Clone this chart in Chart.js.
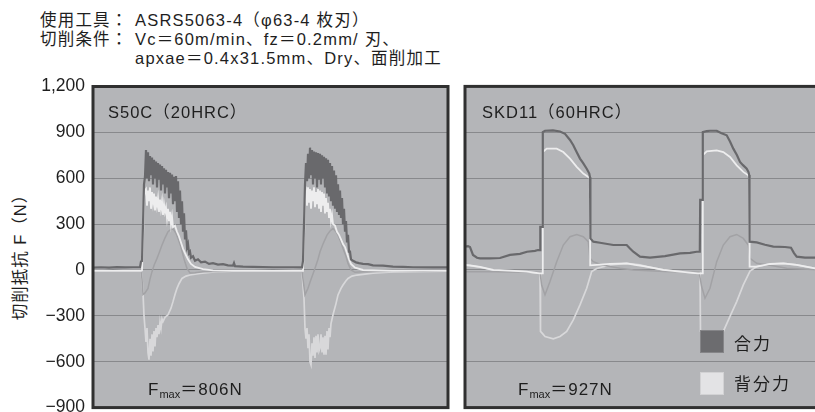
<!DOCTYPE html>
<html>
<head>
<meta charset="utf-8">
<script src="https://cdn.jsdelivr.net/npm/chart.js@4.4.0/dist/chart.umd.min.js"></script>
<style>
html, body { margin: 0; padding: 0; background: #fff; overflow: hidden; width: 815px; height: 412px; }
body { position: relative; font-family: "Liberation Sans", "Noto Sans CJK JP", sans-serif; color: #1e1e1e; }
.t { position: absolute; white-space: nowrap; line-height: 1; letter-spacing: 1px; }
.head { font-size: 16.5px; letter-spacing: 1.2px; }
.panel { position: absolute; top: 76px; height: 346px; }
.title { font-size: 16.5px; }
.fmax { font-size: 17px; }
.fmax sub { font-size: 11px; vertical-align: baseline; position: relative; top: 3px; letter-spacing: 0; }
.ytitle { font-size: 16.5px; transform: translate(-50%, -50%) rotate(-90deg); }
.box { position: absolute; width: 22px; height: 21px; }
.leg { font-size: 17px; letter-spacing: 2px; }
</style>
</head>
<body>

<div class="t head" style="left:40px;top:12px">使用工具：</div>
<div class="t head" style="left:135px;top:12px">ASRS5063-4（φ63-4 枚刃）</div>
<div class="t head" style="left:40px;top:31px">切削条件：</div>
<div class="t head" style="left:135px;top:31px">Vc＝60m/min、fz＝0.2mm/ 刃、</div>
<div class="t head" style="left:135px;top:50px">apxae＝0.4x31.5mm、Dry、面削加工</div>

<div class="t ytitle" style="left:20px;top:253px">切削抵抗 F（N）</div>

<div class="panel" style="left:0;width:452px"><canvas id="chartS50C" width="452" height="346"></canvas></div>
<div class="panel" style="left:463px;width:360px"><canvas id="chartSKD11" width="360" height="346"></canvas></div>

<div id="title0" class="t title" style="left:108px;top:104px"></div>
<div id="title1" class="t title" style="left:482px;top:104px"></div>
<div id="fmax0" class="t fmax" style="left:148px;top:381px"></div>
<div id="fmax1" class="t fmax" style="left:518px;top:381px"></div>

<div class="box" style="left:700px;top:330px;background:#6c6c6f;border:1px solid #858588"></div>
<div class="box" style="left:700px;top:372px;background:#e3e3e5;border:1px solid #d2d2d4"></div>
<div id="leg0" class="t leg" style="left:734px;top:336px"></div>
<div id="leg1" class="t leg" style="left:734px;top:376px"></div>

<script>
// 縦軸
const yTicks = [-900, -600, -300, 0, 300, 600, 900, 1200];
const panelTitles = ['S50C（20HRC）', 'SKD11（60HRC）'];
const fmaxValues = [806, 927];
const legendLabels = ['合力', '背分力'];

const COLORS = {
    resultant: '#69696c',
    thrust: '#ededee',
    feed: '#d8d8da',
    principal: '#a2a2a5'
};

// S50C  [時間, 力N]
const s50cResultant = [
    [0,15],[8,18],[16,16],[24,19],[32,17],[40,18],[47,18],[48,55],[49,58],[50,300],[51,560],[52,610],
    [53,785],[54,600],[55,770],[56,580],[57,745],[58,620],[59,735],[60,560],[61,720],[62,600],[63,710],[64,540],
    [65,700],[66,590],[67,690],[68,520],[69,680],[70,560],[71,665],[72,500],[73,655],[74,540],[75,640],[76,470],
    [77,635],[78,500],[79,625],[80,430],[81,610],[82,450],[83,615],[84,380],[85,580],[86,340],[87,520],[88,300],
    [89,450],[90,250],[91,370],[92,200],[93,260],[94,150],[95,170],[96,110],[97,120],[98,80],[100,90],[102,60],
    [105,70],[108,50],[112,55],[116,40],[120,45],[125,35],[130,38],[135,30],[140,28],[141,45],[142,25],[150,22],
    [160,20],[180,18],[200,18],[209,17],[210,60],[211,300],[212,560],
    [213,700],[214,580],[215,760],[216,600],[217,800],[218,620],[219,785],[220,560],[221,775],[222,600],[223,770],
    [224,540],[225,765],[226,590],[227,760],[228,560],[229,750],[230,600],[231,740],[232,540],[233,730],[234,500],
    [235,720],[236,480],[237,700],[238,450],[239,680],[240,420],[241,650],[242,400],[243,620],[244,380],[245,560],
    [246,360],[247,520],[248,340],[249,470],[250,300],[251,400],[252,250],[253,320],[254,180],[255,230],[256,120],
    [257,120],[258,70],[260,60],[263,50],[266,45],[270,40],[275,38],[280,30],[290,28],[300,22],[310,20],[320,18],
    [340,17],[355,17]
];
const s50cThrust = [
    [0,-5],[10,-4],[20,-6],[30,-4],[40,-5],[48,-5],[49,-3],[50,200],[51,480],[52,520],
    [53,530],[54,420],[55,520],[56,450],[57,540],[58,400],[59,510],[60,440],[61,500],[62,390],[63,480],[64,420],
    [65,470],[66,380],[67,460],[68,400],[69,450],[70,360],[71,430],[72,380],[73,410],[74,340],[75,400],[76,320],
    [77,380],[78,300],[79,350],[80,280],[82,290],[84,250],[86,220],[88,180],[90,140],[92,110],[95,70],[98,40],
    [102,20],[110,5],[120,-3],[140,-5],[160,-4],[180,-6],[200,-5],[210,-5],[211,200],[212,500],
    [213,520],[214,420],[215,540],[216,440],[217,530],[218,400],[219,520],[220,450],[221,540],[222,410],[223,510],
    [224,430],[225,530],[226,400],[227,520],[228,380],[229,510],[230,420],[231,500],[232,370],[233,470],[234,380],
    [235,440],[236,340],[237,400],[238,320],[239,360],[240,300],[242,290],[244,250],[246,230],[248,200],[250,170],
    [252,150],[254,110],[256,70],[258,40],[262,15],[270,0],[300,-5],[330,-4],[355,-5]
];
const s50cPrincipal = [
    [0,-8],[48,-8],[49,-60],[50,-160],[52,-150],[55,-120],[57,-60],[59,-11],[61,30],[64,76],[66,110],[69,163],
    [72,210],[75,250],[78,265],[80,271],[83,240],[85,206],[88,150],[90,98],[92,50],[94,11],[97,-20],[102,-18],
    [110,-12],[130,-8],[209,-8],[210,-60],[212,-163],[215,-120],[217,-80],[222,11],[225,70],[227,119],[230,170],
    [234,228],[237,255],[240,271],[243,250],[245,228],[248,180],[250,141],[253,90],[255,43],[258,0],[262,-15],
    [270,-12],[300,-8],[355,-8]
];
const s50cFeed = [
    [0,-8],[48,-8],[49,-60],[50,-150],[51,-300],[52,-381],
    [53,-470],[54,-380],[55,-540],[56,-587],[57,-450],[58,-560],[59,-420],[60,-533],[61,-400],[62,-500],[63,-380],
    [64,-440],[65,-360],[66,-420],[67,-340],[68,-381],[69,-320],[70,-337],[72,-310],[75,-293],[78,-250],[80,-207],
    [82,-160],[84,-120],[86,-90],[89,-55],[93,-40],[97,-33],[107,-22],[124,-11],[140,-8],[209,-8],[210,-100],
    [211,-185],[212,-381],
    [213,-450],[214,-380],[215,-511],[216,-420],[217,-600],[218,-620],[219,-480],[220,-560],[221,-440],[222,-576],
    [223,-430],[224,-540],[225,-420],[226,-530],[227,-511],[228,-420],[229,-540],[230,-440],[231,-554],[232,-430],
    [233,-554],[234,-400],[235,-520],[236,-380],[237,-440],[238,-350],[240,-293],[243,-220],[245,-163],[248,-120],
    [250,-98],[253,-70],[255,-55],[259,-40],[264,-33],[280,-20],[300,-12],[355,-8]
];

// SKD11
const skdResultant = [
    [0,152],[3,155],[5,150],[8,98],[12,80],[15,76],[25,76],[35,78],[45,98],[55,105],[62,119],[70,125],[73,130],
    [75,130],[75.3,282],[77.5,282],[77.8,901],[80,910],[88,912],[95,905],[100,890],[105,850],[108.3,815],[111,780],
    [115,728],[118,700],[121.7,662],[124.3,630],[125,606],[125.4,206],[128.3,185],[135,178],[148.3,163],[161.7,163],
    [165,140],[168.3,119],[175,87],[185,80],[200,90],[215,108],[225,112],[231.7,119],[234.8,120],[235.2,458],
    [237.4,458],[237.8,901],[241.7,908],[245,910],[251.7,910],[256,895],[261.7,880],[265,840],[268.3,793],[272,750],
    [275,706],[278,685],[281.7,662],[283.5,640],[284.2,620],[284.6,185],[291.7,180],[300,165],[308.3,152],[320,150],
    [326,145],[329,110],[331.7,87],[340,80],[358,80]
];
const skdThrust = [
    [0,33],[5,30],[15,20],[28.3,0],[45,-5],[61.7,-11],[75,-22],[77.4,-22],[77.8,771],[81.7,793],[91.7,793],
    [98.3,771],[105,728],[111.7,674],[118.3,630],[123.3,608],[124.8,600],[125.2,30],[135,35],[145,40],[161.7,43],
    [170,33],[181.7,22],[198.3,0],[215,-11],[233,-22],[237.4,-22],[237.8,750],[241.7,776],[251.7,782],[258.3,771],
    [265,739],[271.7,684],[278.3,641],[283.3,619],[284.2,600],[284.6,22],[291.7,22],[305,39],[318.3,43],[331.7,33],
    [350,11],[358,8]
];
const skdPrincipal = [
    [0,-12],[30,-12],[60,-15],[75,-15],[76.7,-100],[80,-163],[85,-76],[91.7,54],[98.3,163],[105,217],[111.7,232],
    [118.3,217],[123.3,185],[125,76],[128.3,54],[135,37],[145,22],[155,11],[168.3,0],[200,-10],[234,-15],
    [236.7,-110],[240,-185],[245,-120],[251.7,54],[258.3,163],[265,217],[271.7,232],[278.3,206],[283.3,163],
    [285,76],[291.7,43],[305,30],[321.7,11],[358,0]
];
const skdFeed = [
    [0,30],[5,28],[15,18],[28.3,-2],[45,-7],[61.7,-13],[75,-22],[75.5,-402],[78,-420],[80,-435],[88.3,-450],
    [95,-435],[101.7,-402],[108.3,-326],[115,-228],[121.7,-120],[126.7,-11],[131.7,10],[145,33],[161.7,43],
    [175,33],[181.7,22],[198.3,0],[215,-11],[235,-22],[235.5,-402],[238,-430],[243,-445],[250,-440],[255,-420],
    [258.3,-402],[265,-304],[271.7,-207],[278.3,-98],[285,-7],[291.7,22],[305,39],[318.3,43],[331.7,33],[350,11],
    [358,8]
];

const fmtTick = v => (v < 0 ? '−' : '') + Math.abs(v).toLocaleString('en-US');

const panelPlugin = {
    id: 'panel',
    beforeDraw(chart) {
        const { ctx, chartArea: a } = chart;
        ctx.save();
        ctx.fillStyle = '#b4b5b8';
        ctx.fillRect(a.left, a.top, a.right - a.left, a.bottom - a.top);
        ctx.restore();
    },
    afterDraw(chart) {
        const { ctx, chartArea: a } = chart;
        ctx.save();
        ctx.strokeStyle = '#303030';
        ctx.lineWidth = 3;
        ctx.strokeRect(a.left, a.top, a.right - a.left, a.bottom - a.top);
        ctx.restore();
    }
};

function line(data, color, width) {
    return {
        data: data.map(p => ({ x: p[0], y: p[1] })),
        borderColor: color, borderWidth: width,
        pointRadius: 0, tension: 0, fill: false
    };
}

function createPanel(canvasId, series, showTicks, xMax) {
    const ctx = document.getElementById(canvasId);
    return new Chart(ctx, {
        type: 'line',
        data: {
            datasets: [
                line(series.resultant, COLORS.resultant, 2.2),
                line(series.thrust, COLORS.thrust, 1.8),
                line(series.principal, COLORS.principal, 1.5),
                line(series.feed, COLORS.feed, 1.7)
            ]
        },
        options: {
            responsive: false, animation: false,
            layout: { autoPadding: false, padding: { top: 10.4, bottom: 14.4, left: 0, right: showTicks ? 4 : 0 } },
            plugins: { legend: { display: false }, tooltip: { enabled: false } },
            scales: {
                x: { type: 'linear', display: false, min: 0, max: xMax },
                y: {
                    min: yTicks[0], max: yTicks[yTicks.length - 1],
                    afterBuildTicks: s => { s.ticks = yTicks.map(v => ({ value: v })); },
                    afterFit: s => { s.width = showTicks ? 93 : 2; },
                    border: { display: false },
                    // 目盛り線は透明にして、ラベルとの間隔だけ確保
                    grid: { color: '#88898c', lineWidth: 1, drawTicks: showTicks, tickLength: 8, tickColor: 'rgba(0,0,0,0)' },
                    ticks: {
                        display: showTicks, padding: 0, color: '#1e1e1e',
                        font: { family: "'Liberation Sans', Arial, sans-serif", size: 17.5 },
                        callback: v => fmtTick(v)
                    }
                }
            }
        },
        plugins: [panelPlugin]
    });
}

createPanel('chartS50C', { resultant: s50cResultant, thrust: s50cThrust, principal: s50cPrincipal, feed: s50cFeed }, true, 355);
createPanel('chartSKD11', { resultant: skdResultant, thrust: skdThrust, principal: skdPrincipal, feed: skdFeed }, false, 358);

document.getElementById('title0').textContent = panelTitles[0];
document.getElementById('title1').textContent = panelTitles[1];
document.getElementById('fmax0').innerHTML = 'F<sub>max</sub>＝' + fmaxValues[0] + 'N';
document.getElementById('fmax1').innerHTML = 'F<sub>max</sub>＝' + fmaxValues[1] + 'N';
document.getElementById('leg0').textContent = legendLabels[0];
document.getElementById('leg1').textContent = legendLabels[1];
</script>
</body>
</html>
